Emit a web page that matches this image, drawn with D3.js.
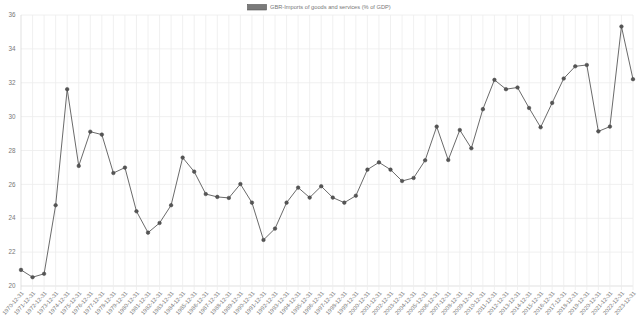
<!DOCTYPE html>
<html>
<head>
<meta charset="utf-8">
<script src="https://cdn.jsdelivr.net/npm/d3@7"></script>
<style>
  body { margin: 0; background: #fff; }
  svg { display: block; font-family: "Liberation Sans", Arial, sans-serif; }
</style>
</head>
<body>
<svg id="chart" width="640" height="320"></svg>
<script>
// data
const years = d3.range(1970, 2024);
const dates = years.map(y => y + "-12-31");
const imports = [
  20.95, 20.52, 20.72, 24.77, 31.62, 27.09, 29.11, 28.94, 26.67, 26.99,
  24.41, 23.15, 23.72, 24.77, 27.58, 26.75, 25.43, 25.26, 25.2, 26.02,
  24.92, 22.72, 23.39, 24.92, 25.81, 25.22, 25.89, 25.22, 24.92, 25.33,
  26.87, 27.3, 26.87, 26.2, 26.38, 27.42, 29.41, 27.44, 29.21, 28.13,
  30.44, 32.17, 31.62, 31.72, 30.51, 29.37, 30.81, 32.25, 32.97, 33.05,
  29.13, 29.41, 35.32, 32.21
];
const yTicks = [20, 22, 24, 26, 28, 30, 32, 34, 36];
const seriesName = "GBR-Imports of goods and services (% of GDP)";

const svg = d3.select("#chart");
// plot area
const pLeft = 21, pRight = 633, pTop = 15, pBottom = 286;

const x = d3.scalePoint().domain(dates).range([pLeft, pRight]);
const y = d3.scaleLinear().domain([20, 36]).range([pBottom, pTop]);

// horizontal grid
svg.append("g").selectAll("line").data(yTicks).enter().append("line")
  .attr("x1", pLeft).attr("x2", pRight)
  .attr("y1", d => y(d)).attr("y2", d => y(d))
  .attr("stroke", d => d == 20 ? "#d9d9d9" : "#ececec")
  .attr("stroke-width", 0.8);

// vertical grid (+ tick marks below the axis)
svg.append("g").selectAll("line").data(dates).enter().append("line")
  .attr("x1", d => x(d)).attr("x2", d => x(d))
  .attr("y1", pTop).attr("y2", pBottom + 4)
  .attr("stroke", (d, i) => i == 0 ? "#d9d9d9" : "#ececec")
  .attr("stroke-width", 0.8);

// y labels
svg.append("g").selectAll("text").data(yTicks).enter().append("text")
  .attr("x", 15.5).attr("y", d => y(d))
  .attr("dy", "0.35em")
  .attr("text-anchor", "end")
  .attr("font-size", 6.3)
  .attr("fill", "#777")
  .text(d => d);

// x labels, rotated
svg.append("g").selectAll("text").data(dates).enter().append("text")
  .attr("transform", d => `translate(${x(d) + 1.5},${pBottom + 6}) rotate(-49)`)
  .attr("text-anchor", "end")
  .attr("dy", "0.35em")
  .attr("font-size", 5.7)
  .attr("fill", "#777")
  .text(d => d);

// series line
const line = d3.line()
  .x((d, i) => x(dates[i]))
  .y(d => y(d));

svg.append("path")
  .datum(imports)
  .attr("fill", "none")
  .attr("stroke", "#595959")
  .attr("stroke-width", 0.9)
  .attr("d", line);

svg.append("g").selectAll("circle").data(imports).enter().append("circle")
  .attr("cx", (d, i) => x(dates[i]))
  .attr("cy", d => y(d))
  .attr("r", 1.8)
  .attr("fill", "#555")
  .attr("stroke", "#444")
  .attr("stroke-width", 0.5);

// legend
const legend = svg.append("g");
legend.append("rect")
  .attr("x", 247.5).attr("y", 4.5)
  .attr("width", 19).attr("height", 5.5)
  .attr("fill", "#7a7a7a")
  .attr("stroke", "#555")
  .attr("stroke-width", 0.6);
legend.append("text")
  .attr("x", 270).attr("y", 7.4)
  .attr("dy", "0.35em")
  .attr("font-size", 5.7)
  .attr("fill", "#777")
  .text(seriesName);
</script>
</body>
</html>
